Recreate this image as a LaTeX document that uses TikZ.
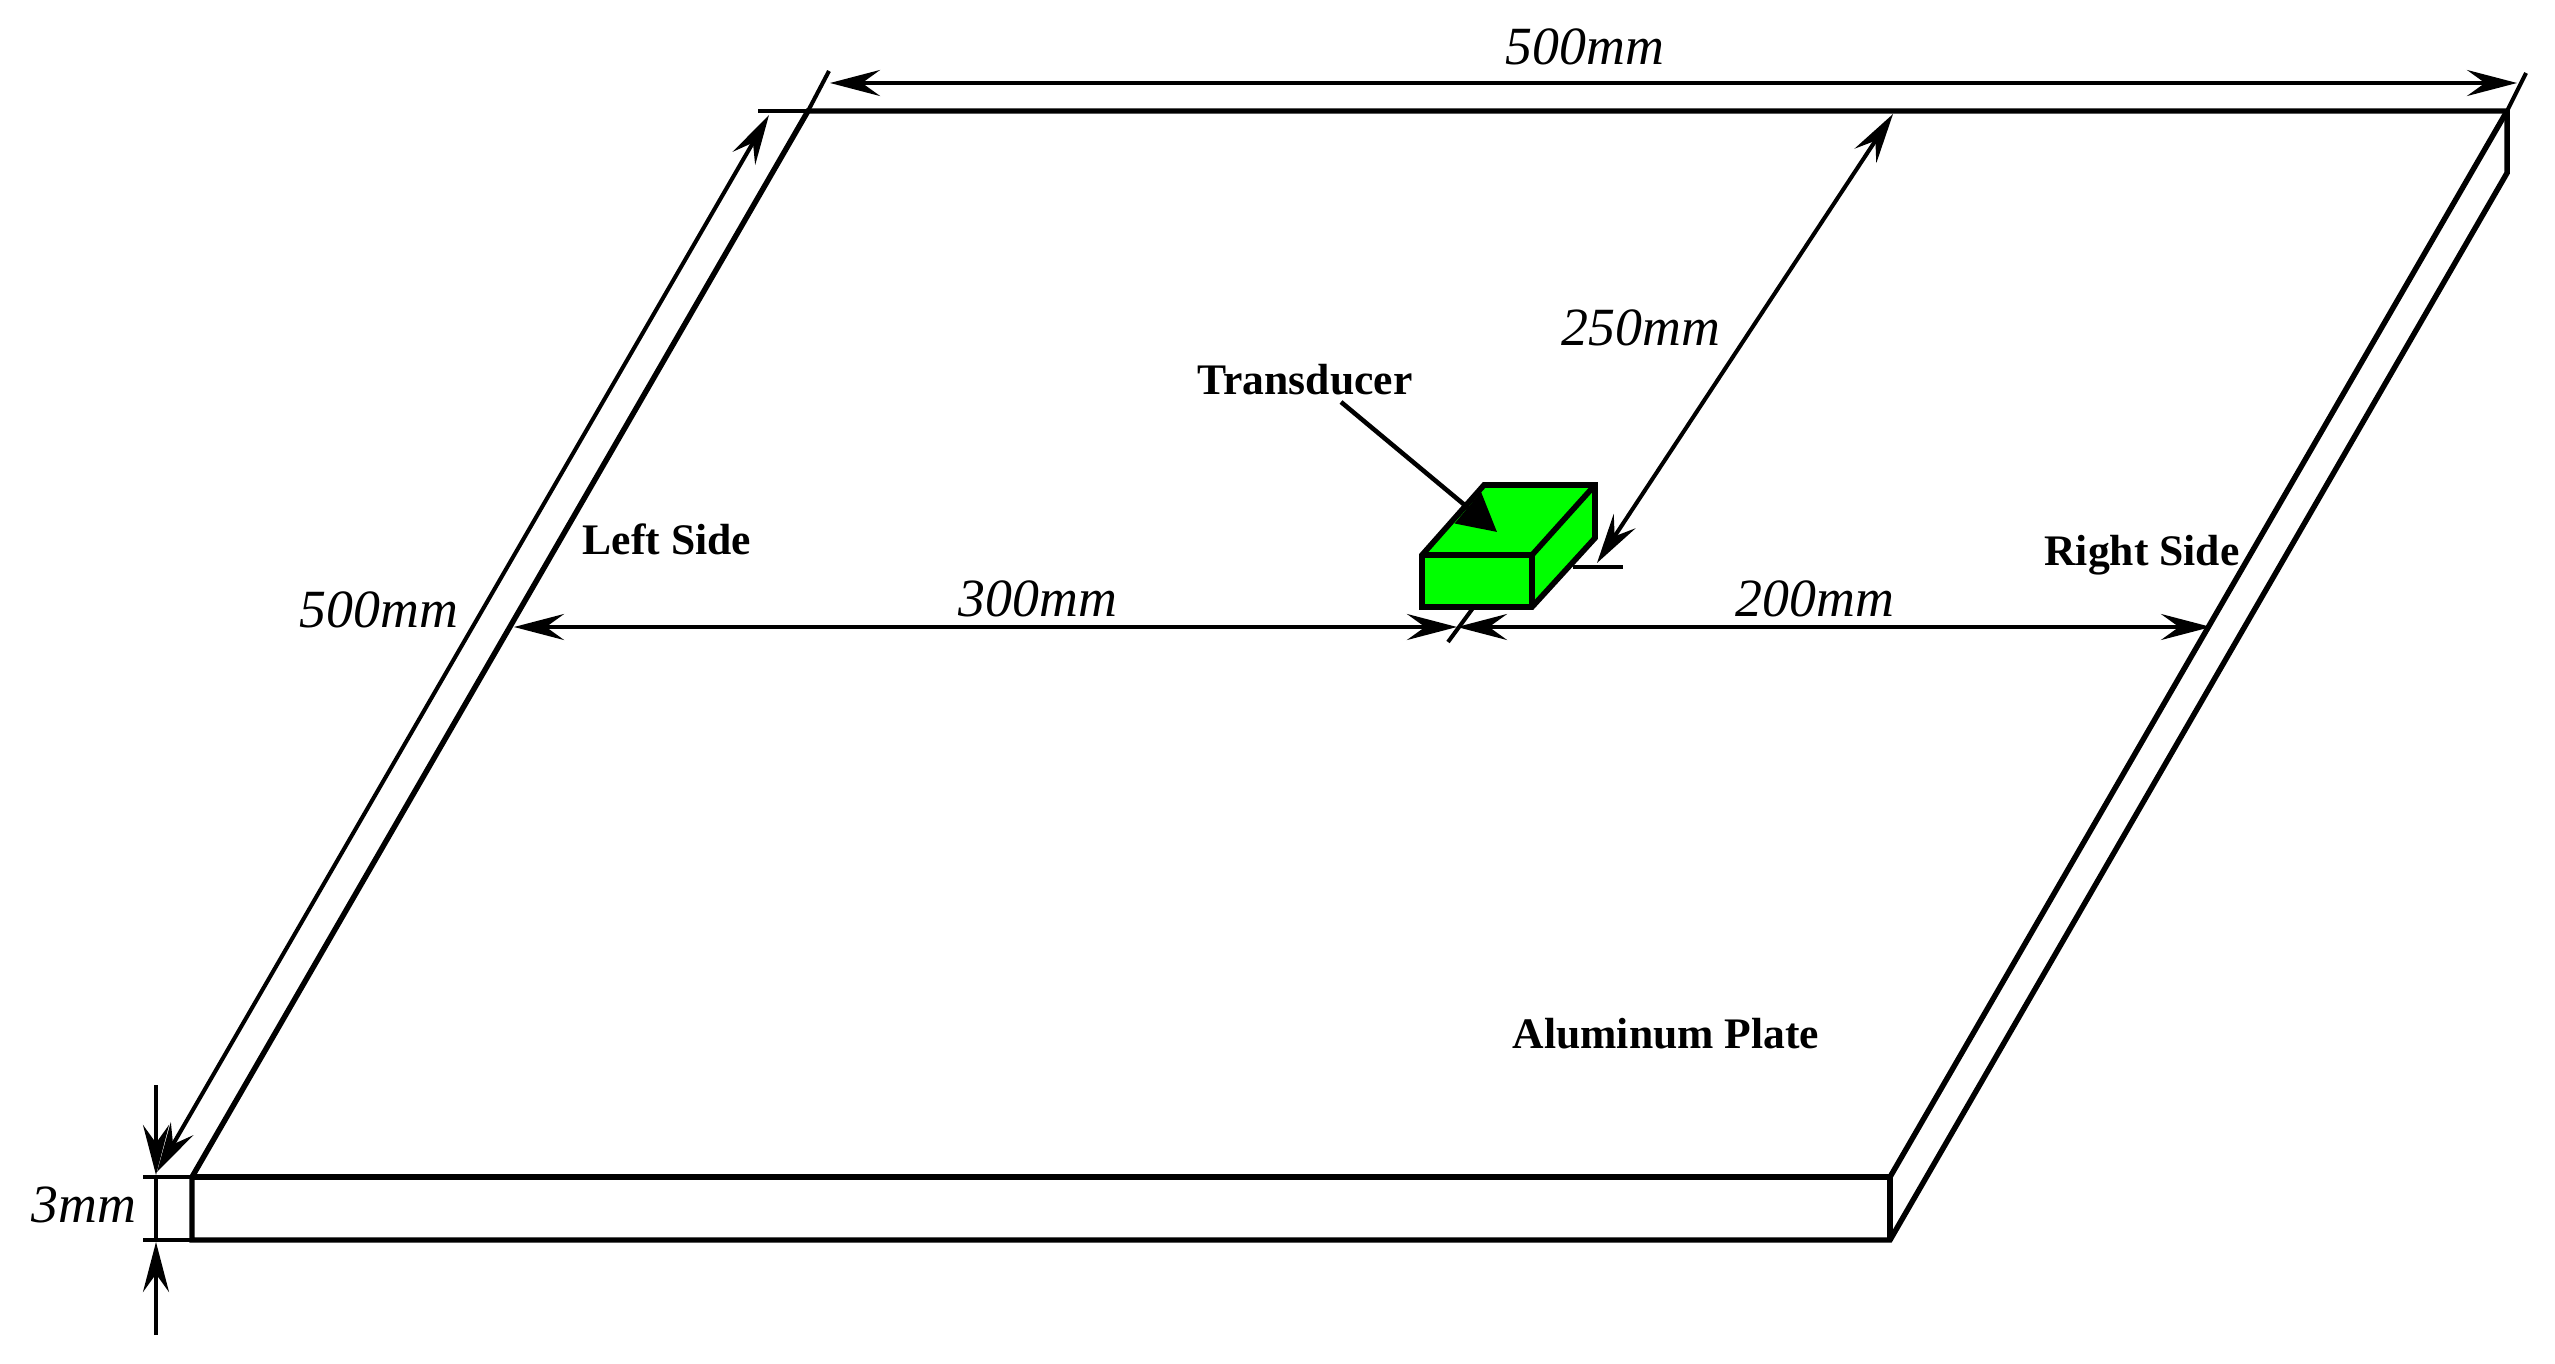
\documentclass[tikz,border=0pt]{standalone}
\usepackage{fontspec}
\setmainfont{Liberation Serif}
\usetikzlibrary{arrows.meta}
\tikzset{
    plate/.style={line width=1.55pt,line join=miter},
    dimline/.style={line width=1.15pt,{Stealth[length=5mm,width=2.6mm,inset=1.8mm]}-{Stealth[length=5mm,width=2.6mm,inset=1.8mm]}},
    dimend/.style={line width=1.15pt,-{Stealth[length=5mm,width=2.6mm,inset=1.8mm]}},
    ext/.style={line width=1.15pt},
    dimtext/.style={font=\fontsize{15.3}{18}\itshape\selectfont,inner sep=0pt},
    nametext/.style={font=\fontsize{12.4}{14}\bfseries\selectfont,inner sep=0pt}
}
\begin{document}
\begin{tikzpicture}[x=0.01cm,y=-0.01cm]
            \useasboundingbox (0,0) rectangle (2555,1364);
            % plate
            \coordinate (tl) at (808,111);
            \coordinate (tr) at (2507,111);
            \coordinate (trb) at (2507,173);
            \coordinate (fl) at (192,1177);
            \coordinate (fr) at (1890,1177);
            \coordinate (flb) at (192,1240);
            \coordinate (frb) at (1890,1240);
            \draw[plate] (tl) -- (tr) -- (trb) -- (frb) -- (flb) -- (fl) -- cycle;
            \draw[plate] (fl) -- (fr) -- (frb);
            \draw[plate] (tr) -- (fr);
            % transducer
            \coordinate (ba) at (1422,555);
            \coordinate (bb) at (1532,555);
            \coordinate (bc) at (1532,607);
            \coordinate (bd) at (1422,607);
            \coordinate (be) at (1484,485);
            \coordinate (bf) at (1595,485);
            \coordinate (bg) at (1595,538);
            \draw[plate,line width=1.6pt,fill=green] (ba) -- (be) -- (bf) -- (bg) -- (bc) -- (bd) -- cycle;
            \draw[plate,line width=1.6pt] (ba) -- (bb) -- (bc);
            \draw[plate,line width=1.6pt] (bb) -- (bf);
            % extension lines
            \coordinate (extl) at (758,111);
            \coordinate (exta) at (829,71);
            \coordinate (extb) at (2526,73);
            \coordinate (extc) at (1573,567);
            \coordinate (extd) at (1623,567);
            \coordinate (exte) at (1473,608);
            \coordinate (extf) at (1448,642);
            \coordinate (thka) at (143,1177);
            \coordinate (thkb) at (143,1240);
            \draw[ext] (extl) -- (tl);
            \draw[ext] (tl) -- (exta);
            \draw[ext] (tr) -- (extb);
            \draw[ext] (extc) -- (extd);
            \draw[ext] (exte) -- (extf);
            \draw[ext] (thka) -- (fl);
            \draw[ext] (thkb) -- (flb);
            % dimensions
            \coordinate (topa) at (830,83);
            \coordinate (topb) at (2517,83);
            \coordinate (lefta) at (769,115);
            \coordinate (leftb) at (157,1172);
            \coordinate (doma) at (1893,114);
            \coordinate (domb) at (1597,563);
            \coordinate (hora) at (514,627);
            \coordinate (horc) at (1457,627);
            \coordinate (horb) at (2211,627);
            \coordinate (thkt) at (156,1085);
            \coordinate (thku) at (156,1175);
            \coordinate (thkv) at (156,1242);
            \coordinate (thkw) at (156,1335);
            \draw[dimline] (topa) -- (topb);
            \draw[dimline] (lefta) -- (leftb);
            \draw[dimline] (doma) -- (domb);
            \draw[dimline] (hora) -- (horc);
            \draw[dimline] (horc) -- (horb);
            \draw[dimend] (thkt) -- (thku);
            \draw[dimend] (thkw) -- (thkv);
            \draw[ext] (thku) -- (thkv);
            % labels
            \node[dimtext] (top500) at (1585,47) {500mm};
            \node[dimtext] (left500) at (379,610) {500mm};
            \node[dimtext] (dim250) at (1641,328) {250mm};
            \node[dimtext] (dim300) at (1038,599) {300mm};
            \node[dimtext] (dim200) at (1815,599) {200mm};
            \node[dimtext] (dim3) at (84,1205) {3mm};
            \node[nametext] (transducer) at (1305,380) {Transducer};
            \node[nametext] (leftside) at (667,539) {Left Side};
            \node[nametext] (rightside) at (2142,555) {Right Side};
            \node[nametext] (alum) at (1666,1034) {Aluminum Plate};
            \coordinate (poina) at (1341,402);
            \coordinate (poinb) at (1497,532);
            \draw[line width=1.3pt,-{Triangle[length=3.8mm,width=4mm]}] (poina) -- (poinb);
\end{tikzpicture}
\end{document}
